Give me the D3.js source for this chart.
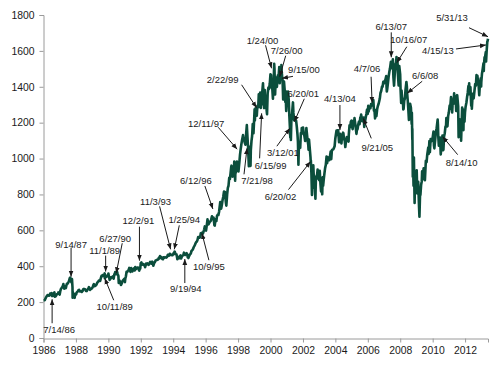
<!DOCTYPE html>
<html><head><meta charset="utf-8">
<script src="https://cdn.jsdelivr.net/npm/d3@7"></script>
<style>
html,body{margin:0;padding:0;background:#fff;}
svg{display:block;font-family:"Liberation Sans",Arial,sans-serif;}
</style></head>
<body>
<svg id="chart" width="500" height="365"></svg>
<script>
// ---- data: index level (date "MM-DD", value) ----
const y1986 = [["01-02",209.6],["01-15",210],["01-31",211.8],["02-14",219.8],["02-28",226.9],["03-14",233],["03-31",238.9],["04-15",238],["04-30",235.5],["05-15",237],["05-30",247.4],["06-16",245],["06-30",250.8],["07-07",244],["07-14",233.7],["07-31",236.1],["08-15",247],["08-29",252.9],["09-04",253.8],["09-12",230.7],["09-30",231.3],["10-15",238],["10-31",244],["11-14",246],["11-28",249.2],["12-02",254],["12-31",242.2]];
const y1987 = [["01-15",262],["01-30",274.1],["02-13",279],["02-27",284.2],["03-13",290],["03-24",301],["03-31",291.7],["04-14",275],["04-24",282],["04-30",288.4],["05-20",278],["05-29",290.1],["06-15",304],["06-30",304],["07-15",310],["07-31",318.7],["08-14",333],["08-25",336.8],["08-31",329.8],["09-14",323],["09-21",310],["09-30",321.8],["10-05",328],["10-16",282.7],["10-19",224.8],["10-21",258.4],["10-26",227.7],["10-30",251.8],["11-13",245.6],["11-30",230.3],["12-04",223.9],["12-15",242.8],["12-31",247.1]];
const y1988 = [["01-08",243.4],["01-15",252],["01-29",257.1],["02-12",259],["02-29",267.8],["03-15",268],["03-31",258.9],["04-14",259.8],["04-29",261.3],["05-13",256.8],["05-31",262.2],["06-15",272],["06-30",273.5],["07-15",272],["07-29",272],["08-15",262],["08-31",261.5],["09-15",268],["09-30",271.9],["10-21",283.7],["10-31",279],["11-15",268],["11-30",273.7],["12-15",274],["12-30",277.7]];
const y1989 = [["01-13",284],["01-31",297.5],["02-07",300],["02-28",288.9],["03-15",292],["03-31",294.9],["04-14",301],["04-28",309.6],["05-15",313],["05-31",320.5],["06-15",320],["06-30",318],["07-14",332],["07-31",346.1],["08-15",345],["08-24",351.5],["08-31",351.5],["09-15",346],["09-29",349.2],["10-09",359.8],["10-11",356.9],["10-13",333.6],["10-24",338],["10-31",340.4],["11-01",341.2],["11-15",340],["11-30",346],["12-15",350],["12-29",353.4]];
const y1990 = [["01-02",359.7],["01-15",340.8],["01-30",323],["01-31",329.1],["02-15",338],["02-28",331.9],["03-15",338],["03-30",339.9],["04-13",344],["04-30",330.8],["05-15",354],["05-31",361.2],["06-04",367.4],["06-15",362.9],["06-27",355.1],["06-29",358],["07-16",369],["07-31",356.2],["08-15",346],["08-23",307],["08-31",322.6],["09-14",318],["09-28",306.1],["10-11",295.5],["10-31",304],["11-15",317],["11-30",322.2],["12-14",326],["12-31",330.2]];
const y1991 = [["01-09",311.5],["01-18",332],["01-31",343.9],["02-15",369],["02-28",367.1],["03-15",373.6],["03-28",375.2],["04-17",390.5],["04-30",375.3],["05-15",368.6],["05-31",389.8],["06-14",382.3],["06-28",371.2],["07-15",382],["07-31",387.8],["08-19",376.5],["08-30",395.4],["09-13",383.6],["09-30",387.9],["10-15",392.8],["10-31",392.5],["11-15",382.6],["11-29",375.2],["12-02",381.4],["12-13",384.5],["12-20",387],["12-31",417.1]];
const y1992 = [["01-15",420.8],["01-31",408.8],["02-14",412.5],["02-28",412.7],["03-16",405],["03-31",403.7],["04-08",394.5],["04-30",415],["05-15",410],["05-29",415.4],["06-15",410],["06-30",408.1],["07-15",416],["07-31",424.2],["08-14",420],["08-31",414],["09-15",425.3],["09-30",417.8],["10-09",402.7],["10-30",418.7],["11-13",422],["11-30",431.4],["12-15",432.6],["12-31",435.7]];
const y1993 = [["01-15",435.9],["01-29",438.8],["02-12",447.7],["02-26",443.4],["03-10",456.3],["03-31",451.7],["04-15",448.4],["04-30",440.2],["05-14",439],["05-28",450.2],["06-15",447],["06-30",450.5],["07-15",449.2],["07-30",448.1],["08-16",452.4],["08-31",463.6],["09-15",461.3],["09-30",458.9],["10-15",469.5],["10-29",467.8],["11-03",463],["11-15",463.8],["11-30",461.8],["12-15",461],["12-31",466.5]];
const y1994 = [["01-14",474.9],["01-25",468],["01-31",481.6],["02-02",482],["02-15",472.5],["02-28",467.1],["03-15",467],["03-31",445.8],["04-04",438.9],["04-15",446.2],["04-29",450.9],["05-13",444.5],["05-31",456.5],["06-15",460.6],["06-24",442.8],["06-30",444.3],["07-15",454],["07-29",458.3],["08-15",461.2],["08-31",475.5],["09-15",468.8],["09-19",470],["09-30",462.7],["10-14",469.1],["10-31",472.4],["11-15",465],["11-23",449.9],["11-30",453.7],["12-08",445.5],["12-30",459.3]];
const y1995 = [["01-13",466],["01-31",470.4],["02-15",484.5],["02-28",487.4],["03-15",491.9],["03-31",500.7],["04-13",509.2],["04-28",514.7],["05-15",525.6],["05-31",533.4],["06-15",537.1],["06-30",544.8],["07-17",562.7],["07-31",562.1],["08-15",559],["08-31",561.9],["09-14",583.6],["09-29",584.4],["10-09",578.4],["10-20",587.5],["10-31",581.5],["11-15",593],["11-30",605.4],["12-13",621.7],["12-29",615.9]];
const y1996 = [["01-10",598.5],["01-31",636],["02-12",661],["02-29",640.4],["03-08",633.5],["03-29",645.5],["04-15",650.2],["04-30",654.2],["05-22",678.5],["05-31",669.1],["06-12",669],["06-28",670.6],["07-16",628.4],["07-24",626.7],["07-31",640],["08-15",662.3],["08-30",652],["09-13",680.5],["09-30",687.3],["10-15",685.8],["10-31",705.3],["11-15",737.6],["11-25",757],["11-29",757],["12-05",744.4],["12-16",721],["12-31",740.7]];
const y1997 = [["01-15",767],["01-31",786.2],["02-18",816.3],["02-28",790.8],["03-11",813.6],["03-31",757.1],["04-11",737.7],["04-30",801.3],["05-15",837],["05-30",848.3],["06-16",893.3],["06-30",885.1],["07-15",916.7],["07-31",954.3],["08-06",960.3],["08-15",900.8],["08-29",899.5],["09-15",919.8],["09-30",947.3],["10-07",983.1],["10-27",877],["10-31",914.6],["11-14",928.4],["11-28",955.4],["12-05",983.8],["12-11",954.9],["12-24",932.7],["12-31",970.4]];
const y1998 = [["01-09",927.7],["01-30",980.3],["02-13",1020],["02-27",1049.3],["03-16",1080],["03-31",1101.8],["04-22",1130.5],["04-30",1111.8],["05-14",1113],["05-29",1090.8],["06-15",1077],["06-30",1133.8],["07-17",1186.8],["07-21",1165.1],["07-31",1120.7],["08-14",1062.8],["08-31",957.3],["09-15",1029.7],["09-23",1066.1],["09-30",1017],["10-08",959.4],["10-15",1047.5],["10-30",1098.7],["11-13",1125.7],["11-27",1192.3],["12-14",1141.2],["12-31",1229.2]];
const y1999 = [["01-08",1275],["01-14",1212.2],["01-29",1279.6],["02-09",1243.3],["02-22",1272.1],["02-26",1238.3],["03-12",1294.6],["03-31",1286.4],["04-12",1358.6],["04-30",1335.2],["05-13",1367.6],["05-27",1281.4],["05-31",1301.8],["06-15",1301.2],["06-30",1372.7],["07-16",1418.8],["07-30",1328.7],["08-10",1281.4],["08-25",1381.8],["08-31",1320.4],["09-10",1351.7],["09-23",1280.4],["09-30",1282.7],["10-15",1247.4],["10-29",1362.9],["11-15",1396.1],["11-30",1388.9],["12-16",1418.1],["12-31",1469.3]];
const y2000 = [["01-04",1399.4],["01-14",1465.2],["01-24",1401.3],["01-31",1394.5],["02-11",1387.1],["02-25",1333.4],["02-29",1366.4],["03-10",1395.1],["03-24",1527.5],["03-31",1498.6],["04-14",1356.6],["04-28",1452.4],["05-12",1421],["05-24",1399],["05-31",1420.6],["06-16",1464.5],["06-30",1454.6],["07-17",1510.5],["07-26",1452.4],["07-28",1419.9],["07-31",1430.8],["08-15",1484.4],["08-31",1517.7],["09-01",1520.8],["09-15",1465.8],["09-29",1436.5],["10-12",1329.8],["10-20",1396.9],["10-31",1429.4],["11-15",1383],["11-30",1315],["12-05",1376.5],["12-20",1264.7],["12-29",1320.3]];
const y2001 = [["01-12",1318.6],["01-30",1373.7],["01-31",1366],["02-15",1326.6],["02-28",1239.9],["03-12",1180.2],["03-22",1117.6],["03-30",1160.3],["04-04",1103.3],["04-18",1238.2],["04-30",1249.5],["05-21",1312.8],["05-31",1255.8],["06-15",1214.4],["06-20",1223],["06-29",1224.4],["07-17",1214.7],["07-31",1211.2],["08-15",1178],["08-31",1133.6],["09-10",1092.5],["09-21",965.8],["09-28",1040.9],["10-15",1089],["10-31",1059.8],["11-15",1142.2],["11-30",1139.5],["12-05",1170.4],["12-20",1139.9],["12-31",1148.1]];
const y2002 = [["01-04",1172.5],["01-15",1139],["01-31",1130.2],["02-20",1098],["02-28",1106.7],["03-19",1170.3],["03-28",1147.4],["04-15",1102.6],["04-30",1076.9],["05-07",1049.5],["05-17",1106.6],["05-31",1067.1],["06-20",1006.3],["06-26",973.5],["06-28",989.8],["07-10",920.5],["07-23",797.7],["07-31",911.6],["08-05",834.6],["08-22",962.7],["08-30",916.1],["09-16",891.1],["09-30",815.3],["10-09",776.8],["10-21",899.7],["10-31",885.8],["11-14",904.3],["11-27",938.9],["12-06",912.2],["12-20",895.8],["12-31",879.8]];
const y2003 = [["01-14",931.7],["01-31",855.7],["02-13",817.4],["02-28",841.2],["03-11",800.7],["03-21",895.8],["03-31",848.2],["04-15",885.5],["04-30",916.9],["05-15",946.7],["05-30",963.6],["06-17",1011.7],["06-30",974.5],["07-14",1006.6],["07-31",990.3],["08-15",990.7],["08-29",1008],["09-18",1039.6],["09-30",996],["10-15",1046.9],["10-31",1050.7],["11-14",1050.4],["11-28",1058.2],["12-15",1068],["12-31",1111.9]];
const y2004 = [["01-26",1155.4],["01-30",1131.1],["02-11",1157.8],["02-27",1144.9],["03-05",1156.9],["03-24",1091.3],["03-31",1126.2],["04-13",1129.4],["04-19",1138],["04-30",1107.3],["05-17",1084.1],["05-28",1120.7],["06-23",1144.1],["06-30",1140.8],["07-15",1106.7],["07-30",1101.7],["08-12",1064],["08-31",1104.2],["09-15",1120.4],["09-30",1114.6],["10-25",1094.8],["10-29",1130.2],["11-15",1184.9],["11-30",1173.8],["12-15",1205.7],["12-31",1211.9]];
const y2005 = [["01-24",1163.8],["01-31",1181.3],["02-15",1210.3],["02-28",1203.6],["03-07",1225.3],["03-31",1180.6],["04-20",1137.5],["04-29",1156.9],["05-16",1165.7],["05-31",1191.5],["06-15",1206.6],["06-30",1191.3],["07-15",1227.9],["07-29",1234.2],["08-03",1245],["08-30",1208.4],["09-15",1227.7],["09-21",1210.2],["09-30",1228.8],["10-13",1176.8],["10-31",1207],["11-15",1229],["11-30",1249.5],["12-14",1272.7],["12-30",1248.3]];
const y2006 = [["01-11",1294.2],["01-20",1261.5],["01-31",1280.1],["02-15",1280],["02-28",1280.7],["03-15",1303],["03-31",1294.8],["04-07",1295.5],["04-20",1311.5],["04-28",1310.6],["05-05",1325.8],["05-19",1267],["05-31",1270.1],["06-13",1223.7],["06-30",1270.2],["07-14",1236.2],["07-31",1276.7],["08-15",1293.2],["08-31",1303.8],["09-15",1319.7],["09-29",1335.9],["10-13",1365.6],["10-31",1377.9],["11-17",1401.2],["11-30",1400.6],["12-15",1427.1],["12-29",1418.3]];
const y2007 = [["01-12",1430.7],["01-31",1438.2],["02-20",1459.7],["02-27",1399],["03-05",1374.1],["03-14",1387.2],["03-30",1420.9],["04-13",1452.9],["04-30",1482.4],["05-15",1501.2],["05-31",1530.6],["06-04",1539.2],["06-13",1515.7],["06-29",1503.4],["07-19",1553.1],["07-31",1455.3],["08-15",1406.7],["08-31",1474],["09-19",1529],["09-28",1526.8],["10-09",1565.2],["10-16",1538.5],["10-31",1549.4],["11-08",1475.6],["11-26",1407.2],["11-30",1481.1],["12-10",1516],["12-31",1468.4]];
const y2008 = [["01-08",1390.2],["01-22",1310.5],["01-31",1378.6],["02-11",1339.1],["02-29",1330.6],["03-10",1273.4],["03-17",1276.6],["03-31",1322.7],["04-15",1334.4],["04-30",1385.6],["05-19",1426.6],["05-30",1400.4],["06-06",1360.7],["06-20",1317.9],["06-30",1280],["07-15",1214.9],["07-31",1267.4],["08-11",1305.3],["08-29",1282.8],["09-15",1192.7],["09-19",1255.1],["09-29",1106.4],["09-30",1166.4],["10-10",899.2],["10-13",1003.4],["10-27",848.9],["10-31",968.8],["11-04",1005.8],["11-20",752.4],["11-28",896.2],["12-08",909.7],["12-31",903.3]];
const y2009 = [["01-06",934.7],["01-20",805.2],["01-30",825.9],["02-09",869.9],["02-27",735.1],["03-09",676.5],["03-26",832.9],["03-31",797.9],["04-15",852.1],["04-30",872.8],["05-08",929.2],["05-15",882.9],["05-29",919.1],["06-12",946.2],["06-30",919.3],["07-10",879.1],["07-31",987.5],["08-17",979.7],["08-31",1020.6],["09-23",1060.9],["09-30",1057.1],["10-02",1025.2],["10-19",1097.9],["10-30",1036.2],["11-16",1109.3],["11-30",1095.6],["12-15",1107.9],["12-31",1115.1]];
const y2010 = [["01-19",1150.2],["01-29",1073.9],["02-08",1056.7],["02-26",1104.5],["03-15",1150.5],["03-31",1169.4],["04-23",1217.3],["04-30",1186.7],["05-06",1128.2],["05-20",1071.6],["05-25",1074],["05-28",1089.4],["06-18",1117.5],["06-30",1030.7],["07-02",1022.6],["07-20",1083.5],["07-30",1101.6],["08-09",1127.8],["08-13",1079.3],["08-26",1047.2],["08-31",1049.3],["09-15",1125.1],["09-30",1141.2],["10-15",1176.2],["10-29",1183.3],["11-05",1225.9],["11-16",1178.3],["11-30",1180.6],["12-15",1235.2],["12-31",1257.6]];
const y2011 = [["01-18",1295],["01-28",1276.3],["02-18",1343],["02-28",1327.2],["03-16",1256.9],["03-31",1325.8],["04-18",1305.1],["04-29",1363.6],["05-16",1329.5],["05-31",1345.2],["06-15",1265.4],["06-30",1320.6],["07-07",1353.2],["07-29",1292.3],["08-08",1119.5],["08-18",1140.7],["08-31",1218.9],["09-12",1162.3],["09-16",1216],["09-30",1131.4],["10-03",1099.2],["10-27",1284.6],["10-31",1253.3],["11-08",1275.9],["11-25",1158.7],["11-30",1247],["12-19",1205.4],["12-30",1257.6]];
const y2012 = [["01-13",1289.1],["01-31",1312.4],["02-15",1343.2],["02-29",1365.7],["03-15",1402.6],["03-30",1408.5],["04-02",1419],["04-10",1358.6],["04-30",1397.9],["05-18",1295.2],["05-31",1310.3],["06-01",1278],["06-19",1358],["06-29",1362.2],["07-12",1334.8],["07-31",1379.3],["08-16",1415.5],["08-31",1406.6],["09-14",1465.8],["09-28",1440.7],["10-05",1460.9],["10-23",1413.1],["10-31",1412.2],["11-15",1353.3],["11-30",1416.2],["12-18",1446.8],["12-28",1402.4],["12-31",1426.2]];
const y2013 = [["01-15",1472.3],["01-31",1498.1],["02-19",1530.9],["02-25",1487.9],["02-28",1514.7],["03-14",1563.2],["03-28",1569.2],["04-11",1593.4],["04-15",1552.4],["04-18",1541.6],["04-30",1597.6],["05-15",1650.5],["05-22",1655],["05-31",1668]];

const years = [1986,1987,1988,1989,1990,1991,1992,1993,1994,1995,1996,1997,1998,1999,2000,2001,2002,2003,2004,2005,2006,2007,2008,2009,2010,2011,2012,2013];
const yearSeries = [y1986,y1987,y1988,y1989,y1990,y1991,y1992,y1993,y1994,y1995,y1996,y1997,y1998,y1999,y2000,y2001,y2002,y2003,y2004,y2005,y2006,y2007,y2008,y2009,y2010,y2011,y2012,y2013];

const yTicks = [0,200,400,600,800,1000,1200,1400,1600,1800];
const xTickYears = [1986,1988,1990,1992,1994,1996,1998,2000,2002,2004,2006,2008,2010,2012];

// annotations: date labels and the level each arrow points at
const annotationDates  = ["7/14/86","9/14/87","11/1/89","6/27/90","10/11/89","12/2/91","11/3/93","1/25/94","9/19/94","10/9/95","6/12/96","12/11/97","7/21/98","2/22/99","6/15/99","1/24/00","7/26/00","9/15/00","3/12/01","6/20/01","6/20/02","4/13/04","9/21/05","4/7/06","6/13/07","10/16/07","6/6/08","8/14/10","5/31/13","4/15/13"];
const annotationValues = [216,342,370,361,333,431,494,494,440,584,719,1052,1057,1283,1252,1503,1456,1447,1169,1205,983,1159,1224,1311,1564,1534,1364,1122,1679,1633];
// layout: label offset (lx,ly) and arrow tail offset (tx,ty) from the arrow tip, in px
const annotationLayout = [
 [7,30,0,24],[0,-32,0,-29],[-1,-21,0,-16],[-1,-35,6,-30],[10,28,9,22],
 [-1,-40,0,-34],[-15,-48,-11,-43],[10,-30,5,-24],[1,30,0,24],[7,33,7,27],
 [-17,-28,-8,-23],[-31,-26,-19,-22],[10,32,-3,26],[-34,-28,-15,-23],[9,52,-2,45],
 [-9,-28,-6,-23],[7,-26,6,-21],[22,-9,11,-2],[-7,24,-13,18],[9,-28,10,-23],
 [-30,35,-22,28],[0,-31,0,-25],[14,29,8,20],[-5,-34,-1,-26],[0,-31,0,-25],
 [12,-23,10,-16],[18,-18,15,-12],[19,26,15,18],[-36,-19,-19,-9],[-48,6,-30,4]
];

// ---- build ----
const parseDay = d3.timeParse("%Y-%m-%d");
const parseLabel = d3.timeParse("%m/%d/%y");
const series = [];
years.forEach((yr, i) => yearSeries[i].forEach(([md, v]) => series.push({date: parseDay(yr + "-" + md), value: v})));

const svg = d3.select("#chart");
const x = d3.scaleTime().domain([new Date(1986,0,1), new Date(2013,4,31)]).range([43.5, 488]);
const y = d3.scaleLinear().domain([0,1800]).range([338, 15]);

const axisColor = "#9a9a9a";
const textColor = "#1a1a1a";

const yAxis = svg.append("g").attr("transform","translate(43.5,0)")
  .call(d3.axisLeft(y).tickValues(yTicks).tickSize(4).tickPadding(5).tickFormat(d3.format("d")));
const xAxis = svg.append("g").attr("transform","translate(0,338.5)")
  .call(d3.axisBottom(x).tickValues(xTickYears.map(yr => new Date(yr,0,1))).tickSize(4).tickPadding(4).tickFormat(d3.timeFormat("%Y")));
[yAxis, xAxis].forEach(g => {
  g.selectAll("path.domain").attr("stroke", axisColor).attr("stroke-width",1);
  g.selectAll(".tick line").attr("stroke", axisColor);
  g.selectAll(".tick text").attr("fill", textColor).style("font-size","10.4px").style("font-family","'Liberation Sans',Arial,sans-serif");
});

const line = d3.line().x(d => x(d.date)).y(d => y(d.value));
svg.append("path").datum(series).attr("d", line)
  .attr("fill","none").attr("stroke","#0b4e3c").attr("stroke-width",2.6).attr("stroke-linejoin","round");

// arrowhead
svg.append("defs").append("marker").attr("id","arr")
  .attr("viewBox","0 0 10 10").attr("refX",10).attr("refY",5)
  .attr("markerWidth",6).attr("markerHeight",6).attr("markerUnits","userSpaceOnUse")
  .attr("orient","auto")
  .append("path").attr("d","M0,1 L10,5 L0,9 Z").attr("fill",textColor);

const ann = svg.append("g");
annotationDates.forEach((lab, i) => {
  const px = x(parseLabel(lab)), py = y(annotationValues[i]);
  const [lx, ly, tx, ty] = annotationLayout[i];
  ann.append("line").attr("x1", px + tx).attr("y1", py + ty).attr("x2", px).attr("y2", py)
    .attr("stroke", textColor).attr("stroke-width", 1).attr("marker-end","url(#arr)");
  ann.append("text").attr("x", px + lx).attr("y", py + ly).attr("dy","0.35em")
    .attr("text-anchor","middle").attr("fill", textColor)
    .style("font-size","9.5px").text(lab);
});
</script>
</body></html>
